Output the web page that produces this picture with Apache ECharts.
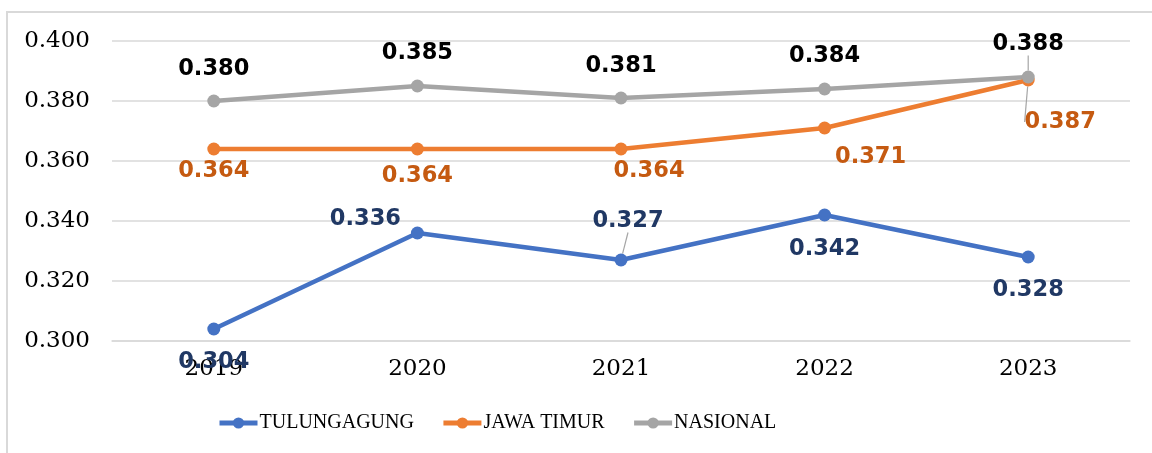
<!DOCTYPE html>
<html>
<head>
<meta charset="utf-8">
<script src="https://cdn.jsdelivr.net/npm/echarts@6/dist/echarts.min.js"></script>
<style>
html, body { margin: 0; padding: 0; background: #fff; }
#chart { width: 1152px; height: 453px; }
</style>
</head>
<body>
<div id="chart"></div>
<script>
var years = ['2019', '2020', '2021', '2022', '2023'];
var tulungagung = [0.304, 0.336, 0.327, 0.342, 0.328];
var jawaTimur = [0.364, 0.364, 0.364, 0.371, 0.387];
var nasional = [0.380, 0.385, 0.381, 0.384, 0.388];

// label offsets from each point (centre of label), in px
var tulOffsets = [[0, 33], [-52, -14], [7, -39], [0, 34], [0, 33]];
var jatOffsets = [[0, 22], [0, 27], [28, 22], [46, 29], [32, 42]];
var nasOffsets = [[0, -32], [0, -33], [0, -32], [0, -33], [0, -33]];
// which labels get a leader line
var tulLines = [false, false, true, false, false];
var jatLines = [false, false, false, false, true];
var nasLines = [false, false, false, false, true];

var labelFont = 'DejaVu Sans';
var axisFont = 'DejaVu Serif';

function buildData(values, lines) {
	return values.map(function(v, i) {
		return {
			value: v,
			labelLine: { show: lines[i] }
		};
	});
}

function makeSeries(name, values, offsets, lines, color, labelColor) {
	return {
		name: name,
		type: 'line',
		data: buildData(values, lines),
		symbol: 'circle',
		symbolSize: 13,
		lineStyle: { width: 4.5, color: color },
		itemStyle: { color: color },
		label: {
			show: true,
			position: 'inside',
			color: labelColor,
			fontFamily: labelFont,
			fontWeight: 'bold',
			fontSize: 22.5,
			formatter: function(p) { return p.value.toFixed(3); }
		},
		labelLayout: function(p) {
			return { dx: offsets[p.dataIndex][0], dy: offsets[p.dataIndex][1] };
		},
		labelLine: {
			show: false,
			lineStyle: { color: '#A5A5A5', width: 1.2 }
		}
	};
}

var option = {
	animation: false,
	color: ['#4472C4', '#ED7D31', '#A5A5A5'],
	grid: { left: 112, right: 22, top: 41, bottom: 112 },
	graphic: [{
		type: 'polyline',
		shape: { points: [[7, 453], [7, 12], [1152, 12]] },
		style: { stroke: '#D9D9D9', lineWidth: 2, fill: null }
	}],
	legend: {
		left: 212,
		top: 408,
		itemWidth: 38,
		itemHeight: 14,
		itemGap: 27,
		lineStyle: { width: 5 },
		textStyle: { fontFamily: 'Liberation Serif', fontSize: 20, color: '#000', padding: [0, 0, 0, -3] },
		data: ['TULUNGAGUNG', 'JAWA TIMUR', 'NASIONAL']
	},
	xAxis: {
		type: 'category',
		data: years,
		axisLine: { lineStyle: { color: '#D9D9D9', width: 1.5 } },
		axisTick: { show: false },
		axisLabel: { margin: 17, color: '#000', fontFamily: axisFont, fontSize: 23 }
	},
	yAxis: {
		type: 'value',
		min: 0.3,
		max: 0.4,
		interval: 0.02,
		axisLine: { show: false },
		axisTick: { show: false },
		splitLine: { lineStyle: { color: '#D9D9D9', width: 1.5 } },
		axisLabel: {
			margin: 22,
			color: '#000',
			fontFamily: axisFont,
			fontSize: 23,
			formatter: function(v) { return v.toFixed(3); }
		}
	},
	series: [
		makeSeries('TULUNGAGUNG', tulungagung, tulOffsets, tulLines, '#4472C4', '#203864'),
		makeSeries('JAWA TIMUR', jawaTimur, jatOffsets, jatLines, '#ED7D31', '#C55A11'),
		makeSeries('NASIONAL', nasional, nasOffsets, nasLines, '#A5A5A5', '#000000')
	]
};

var myChart = echarts.init(document.getElementById('chart'));
myChart.setOption(option);
</script>
</body>
</html>
